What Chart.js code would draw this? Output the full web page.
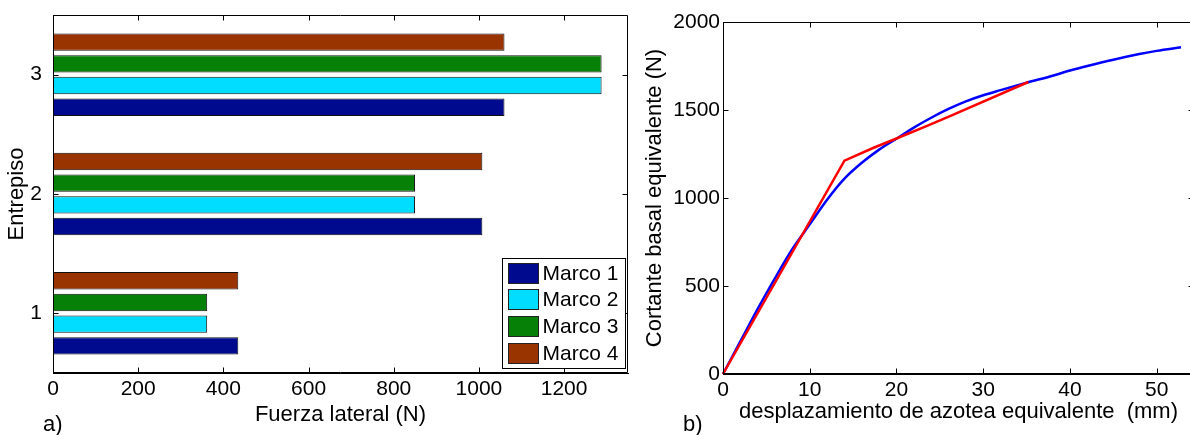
<!DOCTYPE html>
<html lang="es">
<head>
    <meta charset="UTF-8">
    <title>Fuerza lateral por entrepiso / Curva de capacidad</title>
    <script src="https://cdn.jsdelivr.net/npm/chart.js@4.4.1/dist/chart.umd.min.js"></script>
    <style>
        html, body {
            margin: 0;
            padding: 0;
            background: #fff;
            width: 1190px;
            height: 435px;
            overflow: hidden;
        }
        body {
            position: relative;
            font-family: 'Liberation Sans', Arial, sans-serif;
        }
        #barChart { position: absolute; left: 0; top: 0; }
        #curveChart { position: absolute; left: 640px; top: 0; }
        .panel-tag {
            position: absolute;
            top: 411px;
            font-size: 22px;
            line-height: 26px;
            color: #000;
        }
    </style>
</head>
<body>
    <canvas id="barChart" width="640" height="435"></canvas>
    <canvas id="curveChart" width="560" height="435"></canvas>
    <div class="panel-tag" style="left:43px">a)</div>
    <div class="panel-tag" style="left:683px">b)</div>

<script>
    // a) fuerza lateral por entrepiso
    const floors = ['1', '2', '3'];
    const marco1 = [435, 1008, 1060];
    const marco2 = [362, 850, 1288];
    const marco3 = [362, 850, 1288];
    const marco4 = [435, 1008, 1060];
    const forceTicks = [0, 200, 400, 600, 800, 1000, 1200];

    // b) curva de capacidad equivalente
    const dispBlue = [0, 2, 4, 6, 8, 10, 12, 14, 16, 18, 20, 22, 24, 26, 28, 30, 32, 35, 38, 40, 42, 45, 48, 50, 52.8];
    const shearBlue = [0, 185, 370, 545, 710, 850, 990, 1110, 1200, 1275, 1337, 1400, 1456, 1506, 1549, 1584, 1613, 1655, 1695, 1724, 1750, 1786, 1818, 1836, 1856];
    const dispRed = [0, 14, 17.3, 20, 23.8, 26.1, 35.2];
    const shearRed = [0, 1212, 1284, 1338, 1416, 1464, 1659];

    const barColors = ['#000A8F', '#00DDFF', '#078007', '#993300'];

    Chart.defaults.font.family = "'Liberation Sans', Arial, sans-serif";
    Chart.defaults.color = '#000';

    const plain = v => String(v);

    // fixed axis box size, no extra room for overhanging labels
    const fixSize = (w, h) => s => {
        if (w !== null) s.width = w;
        if (h !== null) s.height = h;
        s.paddingTop = s.paddingBottom = s.paddingLeft = s.paddingRight = 0;
    };

    // box around the axes with inward tick marks (matlab style)
    const frame = {
        id: 'frame',
        afterDatasetsDraw(chart) {
            const { ctx, chartArea: a, scales } = chart;
            const len = 5;
            const L = Math.round(a.left) + 0.5, R = Math.round(a.right) - 0.5;
            const T = Math.round(a.top) + 0.5, B = Math.round(a.bottom) - 0.5;
            ctx.save();
            ctx.strokeStyle = '#000';
            ctx.lineWidth = 1;
            ctx.beginPath();
            ctx.rect(L, T, R - L, B - T);
            scales.x.ticks.forEach((t, i) => {
                const px = Math.round(scales.x.getPixelForTick(i)) + 0.5;
                ctx.moveTo(px, B); ctx.lineTo(px, B - len);
                ctx.moveTo(px, T); ctx.lineTo(px, T + len);
            });
            scales.y.ticks.forEach((t, i) => {
                const py = Math.round(scales.y.getPixelForTick(i)) + 0.5;
                ctx.moveTo(L, py); ctx.lineTo(L + len, py);
                ctx.moveTo(R, py); ctx.lineTo(R - len, py);
            });
            ctx.stroke();
            ctx.restore();
        }
    };

    // legend inside the plot, lower right
    const boxLegend = {
        id: 'boxLegend',
        afterDraw(chart) {
            const { ctx, chartArea: a } = chart;
            const items = chart.data.datasets.slice().reverse();
            const w = 123, h = 110;
            const x0 = Math.round(a.right - 3 - w) + 0.5;
            const y0 = Math.round(a.bottom - 5 - h) + 0.5;
            ctx.save();
            ctx.fillStyle = '#fff';
            ctx.fillRect(x0, y0, w, h);
            ctx.strokeStyle = '#000';
            ctx.lineWidth = 1;
            ctx.strokeRect(x0, y0, w, h);
            ctx.font = "21px 'Liberation Sans', Arial, sans-serif";
            ctx.textBaseline = 'middle';
            items.forEach((d, i) => {
                const y = Math.round(y0 + 4 + i * 26.7) + 0.5;
                ctx.fillStyle = d.backgroundColor;
                ctx.fillRect(x0 + 6, y, 30, 20);
                ctx.strokeStyle = '#222';
                ctx.strokeRect(x0 + 6, y, 30, 20);
                ctx.fillStyle = '#000';
                ctx.fillText(d.label, x0 + 40, y + 11);
            });
            ctx.restore();
        }
    };

    new Chart(document.getElementById('barChart'), {
        type: 'bar',
        data: {
            labels: floors,
            // listed top to bottom inside each group
            datasets: [
                { label: 'Marco 4', data: marco4, backgroundColor: barColors[3] },
                { label: 'Marco 3', data: marco3, backgroundColor: barColors[2] },
                { label: 'Marco 2', data: marco2, backgroundColor: barColors[1] },
                { label: 'Marco 1', data: marco1, backgroundColor: barColors[0] }
            ]
        },
        options: {
            indexAxis: 'y',
            responsive: false,
            animation: false,
            categoryPercentage: 0.727,
            barPercentage: 0.8,
            layout: { padding: { top: 15, right: 12, bottom: 0, left: 0 } },
            datasets: { bar: { borderWidth: 1, borderColor: '#111', borderSkipped: false } },
            plugins: { legend: { display: false }, tooltip: { enabled: false } },
            scales: {
                x: {
                    min: 0,
                    max: 1350,
                    afterBuildTicks: s => { s.ticks = forceTicks.map(v => ({ value: v })); },
                    ticks: { padding: 4, font: { size: 21 }, maxRotation: 0, autoSkip: false, callback: plain },
                    grid: { display: false, drawTicks: false },
                    border: { color: '#000' },
                    title: { display: true, text: 'Fuerza lateral (N)', font: { size: 22 }, padding: { top: 0, bottom: 7 } },
                    afterFit: fixSize(null, 62)
                },
                y: {
                    reverse: true,
                    ticks: { padding: 11, font: { size: 21 } },
                    grid: { display: false, drawTicks: false },
                    border: { color: '#000' },
                    title: { display: true, text: 'Entrepiso', font: { size: 22 }, padding: { top: 4, bottom: 0 } },
                    afterFit: fixSize(53, null)
                }
            }
        },
        plugins: [frame, boxLegend]
    });

    new Chart(document.getElementById('curveChart'), {
        type: 'scatter',
        data: {
            datasets: [
                {
                    label: 'Bilineal',
                    data: dispRed.map((x, i) => ({ x: x, y: shearRed[i] })),
                    borderColor: '#ff0000',
                    backgroundColor: '#ff0000',
                    showLine: true,
                    pointRadius: 0,
                    borderWidth: 2.5,
                    clip: false,
                    order: 0
                },
                {
                    label: 'Curva',
                    data: dispBlue.map((x, i) => ({ x: x, y: shearBlue[i] })),
                    borderColor: '#0000ff',
                    backgroundColor: '#0000ff',
                    showLine: true,
                    pointRadius: 0,
                    borderWidth: 2.5,
                    cubicInterpolationMode: 'monotone',
                    clip: false,
                    order: 1
                }
            ]
        },
        options: {
            responsive: false,
            animation: false,
            layout: { padding: { top: 22, right: 6, bottom: 0, left: 0 } },
            plugins: { legend: { display: false }, tooltip: { enabled: false } },
            scales: {
                x: {
                    type: 'linear',
                    min: 0,
                    max: 54.3,
                    ticks: { stepSize: 10, includeBounds: false, padding: 4, font: { size: 21 }, maxRotation: 0, callback: plain },
                    grid: { display: false, drawTicks: false },
                    border: { color: '#000' },
                    title: { display: true, text: 'desplazamiento de azotea equivalente  (mm)', font: { size: 22 }, padding: { top: 0, bottom: 10 } },
                    afterFit: fixSize(null, 61)
                },
                y: {
                    min: 0,
                    max: 2000,
                    ticks: { stepSize: 500, padding: 3, font: { size: 21 }, callback: plain },
                    grid: { display: false, drawTicks: false },
                    border: { color: '#000' },
                    title: { display: true, text: 'Cortante basal equivalente (N)', font: { size: 22 }, padding: { top: 2, bottom: 0 } },
                    afterFit: fixSize(83, null)
                }
            }
        },
        plugins: [frame]
    });
</script>
</body>
</html>
